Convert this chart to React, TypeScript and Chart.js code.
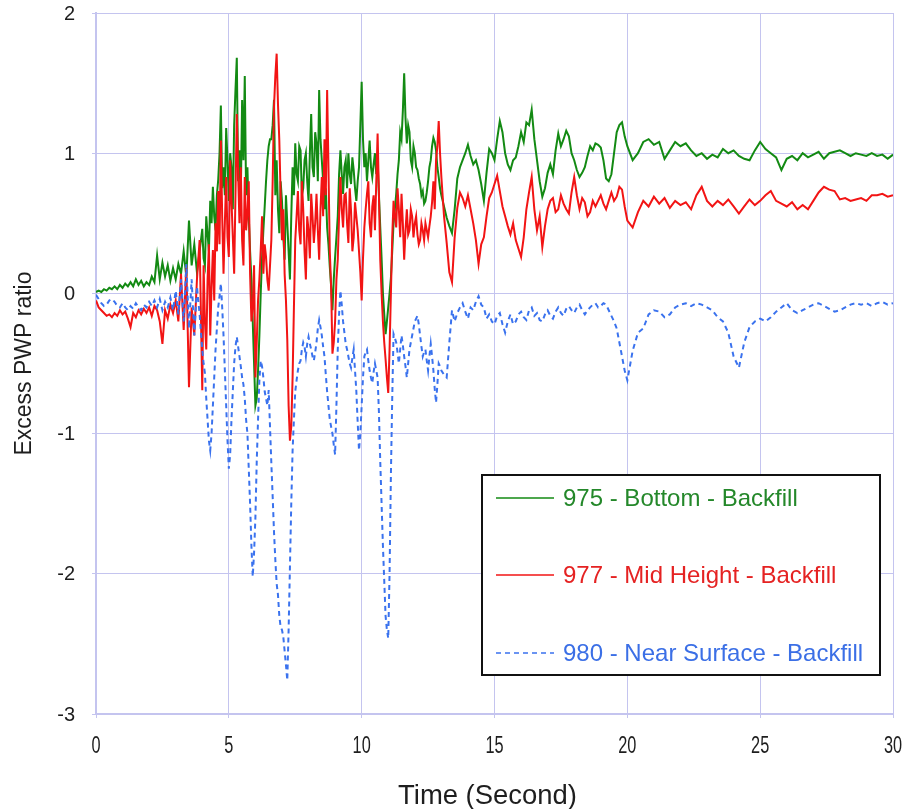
import React, { useEffect, useRef } from "react";
import { Chart, registerables } from "chart.js";

Chart.register(...registerables);

const TIME = [
  0.0, 0.1, 0.2, 0.3, 0.4, 0.5, 0.6, 0.7, 0.8, 0.9,
  1.0, 1.1, 1.2, 1.3, 1.4, 1.5, 1.6, 1.7, 1.8, 1.9,
  2.0, 2.1, 2.2, 2.3, 2.4, 2.5, 2.6, 2.7, 2.8, 2.9,
  3.0, 3.1, 3.2, 3.3, 3.4, 3.5, 3.6, 3.7, 3.8, 3.9,
  4.0, 4.05, 4.1, 4.15, 4.2, 4.25, 4.3, 4.35, 4.4, 4.45,
  4.5, 4.55, 4.6, 4.65, 4.7, 4.75, 4.8, 4.85, 4.9, 4.95,
  5.0, 5.05, 5.1, 5.15, 5.2, 5.25, 5.3, 5.35, 5.4, 5.45,
  5.5, 5.55, 5.6, 5.65, 5.7, 5.75, 5.8, 5.85, 5.9, 5.95,
  6.0, 6.05, 6.1, 6.15, 6.2, 6.25, 6.3, 6.35, 6.4, 6.45,
  6.5, 6.55, 6.6, 6.65, 6.7, 6.75, 6.8, 6.85, 6.9, 6.95,
  7.0, 7.05, 7.1, 7.15, 7.2, 7.25, 7.3, 7.35, 7.4, 7.45,
  7.5, 7.55, 7.6, 7.65, 7.7, 7.75, 7.8, 7.85, 7.9, 7.95,
  8.0, 8.05, 8.1, 8.15, 8.2, 8.25, 8.3, 8.35, 8.4, 8.45,
  8.5, 8.55, 8.6, 8.65, 8.7, 8.75, 8.8, 8.85, 8.9, 8.95,
  9.0, 9.05, 9.1, 9.15, 9.2, 9.25, 9.3, 9.35, 9.4, 9.45,
  9.5, 9.55, 9.6, 9.65, 9.7, 9.75, 9.8, 9.85, 9.9, 9.95,
  10.0, 10.05, 10.1, 10.15, 10.2, 10.25, 10.3, 10.35, 10.4, 10.45,
  10.5, 10.55, 10.6, 10.65, 10.7, 10.75, 10.8, 10.85, 10.9, 10.95,
  11.0, 11.05, 11.1, 11.15, 11.2, 11.25, 11.3, 11.35, 11.4, 11.45,
  11.5, 11.55, 11.6, 11.65, 11.7, 11.75, 11.8, 11.85, 11.9, 11.95,
  12.0, 12.05, 12.1, 12.15, 12.2, 12.25, 12.3, 12.35, 12.4, 12.45,
  12.5, 12.55, 12.6, 12.65, 12.7, 12.75, 12.8, 12.85, 12.9, 12.95,
  13.0,
  13.1, 13.2, 13.3, 13.4, 13.5, 13.6, 13.7, 13.8, 13.9, 14.0,
  14.1, 14.2, 14.3, 14.4, 14.5, 14.6, 14.7, 14.8, 14.9, 15.0,
  15.1, 15.2, 15.3, 15.4, 15.5, 15.6, 15.7, 15.8, 15.9, 16.0,
  16.1, 16.2, 16.3, 16.4, 16.5, 16.6, 16.7, 16.8, 16.9, 17.0,
  17.1, 17.2, 17.3, 17.4, 17.5, 17.6, 17.7, 17.8, 17.9, 18.0,
  18.1, 18.2, 18.3, 18.4, 18.5, 18.6, 18.7, 18.8, 18.9, 19.0,
  19.1, 19.2, 19.3, 19.4, 19.5, 19.6, 19.7, 19.8, 19.9, 20.0,
  20.2, 20.4, 20.6, 20.8, 21.0, 21.2, 21.4, 21.6, 21.8, 22.0,
  22.2, 22.4, 22.6, 22.8, 23.0, 23.2, 23.4, 23.6, 23.8, 24.0,
  24.2, 24.4, 24.6, 24.8, 25.0, 25.2, 25.4, 25.6, 25.8, 26.0,
  26.2, 26.4, 26.6, 26.8, 27.0, 27.2, 27.4, 27.6, 27.8, 28.0,
  28.2, 28.4, 28.6, 28.8, 29.0, 29.2, 29.4, 29.6, 29.8, 30.0,
];

const BOTTOM_975 = [
  0.01, 0.02, 0.01, 0.03, 0.02, 0.04, 0.03, 0.05, 0.03, 0.06,
  0.04, 0.07, 0.05, 0.08, 0.05, 0.10, 0.06, 0.09, 0.05, 0.08,
  0.06, 0.12, 0.08, 0.27, 0.10, 0.22, 0.12, 0.20, 0.09, 0.18,
  0.10, 0.21, 0.14, 0.30, 0.12, 0.52, 0.20, 0.35, 0.15, 0.30,
  0.46, 0.25, 0.20, 0.55, 0.42, 0.30, 0.66, 0.50, 0.76, 0.55,
  0.45, 0.70, 0.81, 1.00, 1.34, 0.75, 0.90, 0.70, 1.18, 0.95,
  0.66, 1.00, 0.90, 0.60, 1.20, 1.45, 1.68, 0.80, 1.02, 0.70,
  1.38, 0.95, 1.55, 0.70, 0.90, 0.55, 0.30, 0.10, -0.20, -0.50,
  -0.80, -0.75, -0.55, -0.30, 0.00, 0.25, 0.45, 0.62, 0.80, 0.95,
  1.05, 1.10, 1.10, 1.20, 1.38, 0.70, 0.95, 0.60, 0.43, 0.80,
  0.66, 0.40, 0.24, 0.70, 0.50, 0.30, 0.10, 0.55, 0.90, 0.70,
  1.07, 0.85, 0.80, 1.05, 1.02, 0.70, 0.75, 0.95, 1.00, 0.80,
  0.66, 1.00, 1.28, 0.90, 0.83, 1.15, 1.07, 0.80, 1.45, 1.10,
  0.95, 0.80, 0.60, 0.75, 0.47, 0.35, 0.19, 0.05, -0.12, 0.10,
  0.26, 0.40, 0.55, 0.85, 1.02, 0.85, 0.71, 0.90, 0.95, 0.75,
  1.00, 0.85, 0.78, 0.97, 0.88, 0.75, 0.66, 0.80, 0.90, 1.20,
  1.51, 1.10, 0.90, 1.00, 0.80, 0.95, 1.09, 0.90, 0.83, 0.92,
  1.00, 0.85, 0.95, 0.70, 0.47, 0.25, 0.00, -0.15, -0.29, -0.20,
  -0.10, 0.00, 0.11, 0.30, 0.50, 0.60, 0.71, 0.85, 0.95, 1.15,
  1.10, 1.30, 1.57, 1.25, 1.07, 1.20, 1.15, 0.95, 0.90, 1.05,
  1.00, 0.90, 0.88, 0.82, 0.78, 0.70, 0.73, 0.64, 0.66, 0.72,
  0.80, 0.90, 0.95, 1.05, 1.11, 1.08, 1.02, 0.90, 0.83, 0.75,
  0.70,
  0.62, 0.54, 0.48, 0.43, 0.60, 0.82, 0.90, 0.95, 1.00, 1.06,
  0.98, 0.92, 0.95, 0.88, 0.78, 0.66, 0.86, 1.03, 1.00, 0.95,
  1.10, 1.23, 1.15, 1.00, 0.92, 0.88, 0.95, 0.97, 1.05, 1.15,
  1.08, 1.22, 1.20, 1.31, 1.10, 0.95, 0.80, 0.69, 0.75, 0.86,
  0.92, 0.85, 1.02, 1.14, 1.05, 1.10, 1.16, 1.12, 1.00, 0.95,
  0.88, 0.83, 0.86, 0.90, 0.98, 1.05, 1.02, 1.07, 1.06, 1.04,
  0.95, 0.82, 0.80, 0.85, 1.00, 1.15, 1.20, 1.22, 1.12, 1.05,
  0.95, 1.00, 1.08, 1.10, 1.06, 1.08, 0.96, 1.02, 1.08, 1.05,
  1.07, 1.02, 0.98, 1.00, 0.96, 0.99, 0.97, 1.03, 1.00, 1.02,
  0.98, 0.96, 0.95, 1.02, 1.08, 1.03, 1.00, 0.97, 0.88, 0.96,
  0.98, 0.95, 1.00, 0.97, 0.99, 1.01, 0.96, 1.00, 1.01, 1.02,
  1.00, 0.98, 1.00, 0.99, 0.98, 1.00, 0.98, 0.99, 0.96, 0.99,
];

const MID_977 = [
  -0.05, -0.10, -0.12, -0.14, -0.16, -0.15, -0.17, -0.14, -0.16, -0.12,
  -0.15, -0.13, -0.18, -0.24, -0.14, -0.17, -0.12, -0.15, -0.11, -0.14,
  -0.10, -0.16, -0.09, -0.12, -0.20, -0.36, -0.12, -0.18, -0.08, -0.14,
  -0.05, -0.20, 0.14, -0.26, 0.20, -0.67, -0.10, -0.30, 0.10, 0.38,
  -0.69, 0.20, -0.20, -0.40, 0.10, 0.35, -0.30, 0.05, 0.31, -0.05,
  0.50, 0.30, 0.73, 0.35, 1.09, 0.55, 0.14, 0.50, 0.83, 0.40,
  0.26, 0.95, 0.66, 0.40, 0.14, 0.70, 1.28, 0.85, 0.50, 0.90,
  0.38, 0.20, 0.83, 0.45, 0.57, 0.80, 0.14, -0.20, -0.10, 0.20,
  -0.60, -0.35, -0.05, 0.10, 0.31, 0.55, 0.14, 0.35, 0.26, 0.10,
  0.02, 0.20, 0.38, 0.80, 1.33, 1.55, 1.71, 1.35, 1.09, 0.70,
  0.38, 0.60, 0.14, -0.05, -0.33, -0.80, -1.05, -0.95, -0.60, -0.10,
  0.38, 0.55, 0.73, 0.45, 0.35, 0.80, 0.60, 0.30, 0.10, 0.55,
  0.45, 0.25, 0.71, 0.55, 0.36, 0.50, 0.71, 0.45, 0.24, 0.60,
  0.83, 0.55, 1.10, 0.70, 1.45, 0.90, 0.30, 0.05, -0.43, -0.35,
  -0.20, 0.10, 0.24, 0.55, 0.83, 0.60, 0.47, 0.70, 0.71, 0.50,
  0.36, 0.75, 0.59, 0.30, 0.40, 0.65, 0.55, 0.45, 0.30, 0.15,
  -0.05, 0.25, 0.47, 0.60, 0.71, 0.80, 0.50, 0.40, 0.62, 0.70,
  0.45, 0.80, 1.14, 0.70, 0.24, 0.00, -0.20, -0.35, -0.47, -0.60,
  -0.71, -0.40, 0.00, 0.40, 0.66, 0.55, 0.47, 0.75, 0.60, 0.40,
  0.71, 0.50, 0.24, 0.45, 0.60, 0.42, 0.45, 0.60, 0.55, 0.40,
  0.50, 0.55, 0.42, 0.35, 0.38, 0.50, 0.45, 0.38, 0.50, 0.45,
  0.40, 0.48, 0.55, 0.65, 0.80, 0.60, 0.95, 1.05, 1.23, 1.00,
  0.83,
  0.55, 0.36, 0.15, 0.08, 0.40, 0.61, 0.72, 0.68, 0.62, 0.70,
  0.60, 0.50, 0.38, 0.21, 0.35, 0.40, 0.55, 0.68, 0.72, 0.78,
  0.84, 0.73, 0.62, 0.55, 0.48, 0.42, 0.50, 0.38, 0.32, 0.26,
  0.40, 0.60, 0.72, 0.83, 0.60, 0.45, 0.55, 0.33, 0.48, 0.60,
  0.66, 0.68, 0.58, 0.60, 0.70, 0.64, 0.60, 0.57, 0.72, 0.83,
  0.70, 0.60, 0.68, 0.65, 0.55, 0.58, 0.66, 0.62, 0.66, 0.70,
  0.64, 0.60, 0.66, 0.72, 0.66, 0.69, 0.76, 0.74, 0.62, 0.52,
  0.47, 0.58, 0.66, 0.62, 0.69, 0.64, 0.68, 0.61, 0.66, 0.63,
  0.65, 0.60, 0.70, 0.76, 0.66, 0.62, 0.66, 0.63, 0.67, 0.62,
  0.57, 0.62, 0.67, 0.63, 0.66, 0.70, 0.73, 0.66, 0.64, 0.62,
  0.65, 0.60, 0.63, 0.60, 0.66, 0.72, 0.76, 0.74, 0.73, 0.67,
  0.68, 0.66, 0.67, 0.68, 0.66, 0.70, 0.70, 0.71, 0.69, 0.70,
];

const SURFACE_980 = [
  -0.01, -0.04, -0.07, -0.09, -0.08, -0.05, -0.04, -0.06, -0.09, -0.10,
  -0.07, -0.10, -0.12, -0.09, -0.11, -0.07, -0.10, -0.12, -0.08, -0.10,
  -0.06, -0.09, -0.05, -0.10, -0.04, -0.12, -0.06, -0.10, -0.03, -0.12,
  0.02, -0.15, 0.10, -0.20, 0.21, -0.25, 0.10, -0.30, 0.05, -0.15,
  -0.40, -0.50, -0.57, -0.75, -0.90, -1.05, -1.12, -1.00, -0.80, -0.60,
  -0.40, -0.25, -0.10, -0.02, 0.07, -0.10, -0.30, -0.55, -0.80, -1.05,
  -1.25, -1.15, -0.90, -0.70, -0.50, -0.38, -0.31, -0.38, -0.45, -0.52,
  -0.60, -0.65, -0.75, -0.90, -1.00, -1.25, -1.50, -1.80, -2.02, -1.85,
  -1.60, -1.20, -0.90, -0.62, -0.48, -0.52, -0.60, -0.70, -0.75, -0.80,
  -0.69, -0.95, -1.21, -1.45, -1.70, -1.90, -2.07, -2.15, -2.30, -2.38,
  -2.40, -2.45, -2.55, -2.65, -2.76, -2.40, -1.95, -1.50, -1.12, -0.90,
  -0.70, -0.62, -0.55, -0.50, -0.48, -0.40, -0.35, -0.38, -0.45, -0.36,
  -0.31, -0.36, -0.40, -0.45, -0.48, -0.42, -0.35, -0.25, -0.19, -0.24,
  -0.30, -0.38, -0.45, -0.58, -0.70, -0.80, -0.90, -0.95, -1.00, -1.08,
  -1.15, -0.80, -0.40, -0.15, 0.02, -0.08, -0.20, -0.28, -0.36, -0.40,
  -0.45, -0.50, -0.53, -0.46, -0.40, -0.55, -0.70, -0.92, -1.12, -1.00,
  -0.80, -0.60, -0.45, -0.42, -0.40, -0.48, -0.55, -0.60, -0.64, -0.56,
  -0.50, -0.55, -0.60, -0.85, -1.20, -1.50, -1.80, -2.05, -2.30, -2.40,
  -2.46, -2.00, -1.30, -0.75, -0.29, -0.32, -0.35, -0.42, -0.50, -0.40,
  -0.30, -0.37, -0.45, -0.52, -0.60, -0.50, -0.40, -0.35, -0.30, -0.25,
  -0.20, -0.18, -0.16, -0.22, -0.30, -0.38, -0.45, -0.42, -0.40, -0.48,
  -0.55, -0.45, -0.36, -0.45, -0.55, -0.68, -0.78, -0.65, -0.50, -0.52,
  -0.55,
  -0.58, -0.60, -0.35, -0.12, -0.20, -0.14, -0.10, -0.07, -0.13, -0.18,
  -0.10, -0.12, -0.06, -0.02, -0.08, -0.10, -0.18, -0.15, -0.20, -0.22,
  -0.16, -0.14, -0.22, -0.28, -0.20, -0.15, -0.22, -0.20, -0.15, -0.13,
  -0.17, -0.19, -0.12, -0.10, -0.16, -0.14, -0.19, -0.20, -0.15, -0.12,
  -0.16, -0.18, -0.13, -0.10, -0.14, -0.16, -0.11, -0.09, -0.12, -0.14,
  -0.10, -0.08, -0.12, -0.15, -0.12, -0.10, -0.08, -0.07, -0.10, -0.09,
  -0.07, -0.08, -0.12, -0.16, -0.20, -0.25, -0.35, -0.45, -0.55, -0.62,
  -0.41, -0.28, -0.25, -0.15, -0.12, -0.13, -0.17, -0.15, -0.10, -0.08,
  -0.07, -0.09, -0.07, -0.08, -0.10, -0.12, -0.17, -0.20, -0.28, -0.45,
  -0.53, -0.35, -0.24, -0.20, -0.18, -0.20, -0.17, -0.13, -0.10, -0.07,
  -0.12, -0.14, -0.12, -0.10, -0.08, -0.07, -0.09, -0.11, -0.13, -0.12,
  -0.10, -0.08, -0.07, -0.08, -0.07, -0.09, -0.07, -0.06, -0.08, -0.07,
];

const X_TICKS = [0, 5, 10, 15, 20, 25, 30];
const Y_TICKS = [-3, -2, -1, 0, 1, 2];
const SERIES_LABELS = [
  "975 - Bottom - Backfill",
  "977 - Mid Height - Backfill",
  "980 - Near Surface - Backfill",
];
const SERIES_COLORS = ["#138a13", "#f21414", "#3a72ee"];
const LABEL_COLORS = ["#24882a", "#e52222", "#3b6fe6"];
const X_TITLE = "Time (Second)";
const Y_TITLE = "Excess PWP ratio";

const FONT = '"Liberation Sans", Arial, Helvetica, sans-serif';

const toPoints = (ys: number[]) => TIME.map((t, i) => ({ x: t, y: ys[i] }));

const textPlugin = {
  id: "axisTextAndLegend",
  afterDraw(chart: any) {
    const { ctx, chartArea: a, scales } = chart;
    const xs = scales.x;
    const ys = scales.y;
    ctx.save();
    ctx.fillStyle = "#1e1e1e";
    // x tick labels
    ctx.font = `24px ${FONT}`;
    ctx.textAlign = "center";
    ctx.textBaseline = "middle";
    X_TICKS.forEach((v) => {
      const px = xs.getPixelForValue(v);
      ctx.save();
      ctx.translate(px, a.bottom + 32);
      ctx.scale(0.68, 1);
      ctx.fillText(String(v), 0, 0);
      ctx.restore();
    });
    // y tick labels
    ctx.font = `20px ${FONT}`;
    ctx.textAlign = "right";
    Y_TICKS.forEach((v) => {
      const py = ys.getPixelForValue(v);
      ctx.fillText(String(v), a.left - 21, py + 1);
    });
    // x title
    ctx.font = `28px ${FONT}`;
    ctx.textAlign = "center";
    ctx.save();
    ctx.translate((a.left + a.right) / 2 - 7, a.bottom + 82);
    ctx.scale(0.98, 1);
    ctx.fillText(X_TITLE, 0, 0);
    ctx.restore();
    // y title
    ctx.font = `23px ${FONT}`;
    ctx.save();
    ctx.translate(25, (a.top + a.bottom) / 2);
    ctx.rotate(-Math.PI / 2);
    ctx.fillText(Y_TITLE, 0, 0);
    ctx.restore();

    // legend box
    const bx = a.left + 386;
    const by = a.top + 462;
    const bw = 398;
    const bh = 200;
    ctx.fillStyle = "#ffffff";
    ctx.fillRect(bx, by, bw, bh);
    ctx.strokeStyle = "#111111";
    ctx.lineWidth = 2;
    ctx.strokeRect(bx, by, bw, bh);
    const rows = [by + 23, by + 100, by + 178];
    chart.data.datasets.forEach((ds: any, i: number) => {
      const ry = rows[i];
      ctx.save();
      ctx.strokeStyle = ds.borderColor;
      ctx.lineWidth = 1.6;
      ctx.setLineDash(ds.borderDash || []);
      ctx.beginPath();
      ctx.moveTo(bx + 14, ry);
      ctx.lineTo(bx + 72, ry);
      ctx.stroke();
      ctx.restore();
      ctx.fillStyle = LABEL_COLORS[i];
      ctx.font = `24px ${FONT}`;
      ctx.textAlign = "left";
      ctx.textBaseline = "middle";
      ctx.fillText(ds.label, bx + 81, ry + 1);
    });
    ctx.restore();
  },
};

export default function App() {
  const ref = useRef<HTMLCanvasElement | null>(null);

  useEffect(() => {
    document.body.style.margin = "0";
    const canvas = ref.current;
    if (!canvas) return;
    const gridColor = "#c4c4ef";
    const chart = new Chart(canvas, {
      type: "line",
      data: {
        datasets: [
          {
            label: SERIES_LABELS[0],
            data: toPoints(BOTTOM_975),
            borderColor: SERIES_COLORS[0],
            borderWidth: 2,
            pointRadius: 0,
            tension: 0,
            order: 3,
          },
          {
            label: SERIES_LABELS[1],
            data: toPoints(MID_977),
            borderColor: SERIES_COLORS[1],
            borderWidth: 2,
            pointRadius: 0,
            tension: 0,
            order: 2,
          },
          {
            label: SERIES_LABELS[2],
            data: toPoints(SURFACE_980),
            borderColor: SERIES_COLORS[2],
            borderWidth: 2,
            borderDash: [5, 4],
            pointRadius: 0,
            tension: 0,
            order: 1,
          },
        ],
      },
      options: {
        responsive: false,
        animation: false,
        layout: { padding: { left: 0, right: 14, top: 13, bottom: 0 } },
        plugins: { legend: { display: false }, tooltip: { enabled: false } },
        scales: {
          x: {
            type: "linear",
            min: 0,
            max: 30,
            ticks: { stepSize: 5, display: false },
            grid: { color: gridColor, lineWidth: 1, tickLength: 4 },
            border: { color: gridColor, width: 2 },
            afterFit: (s: any) => {
              s.height = 95;
            },
          },
          y: {
            type: "linear",
            min: -3,
            max: 2,
            ticks: { stepSize: 1, display: false },
            grid: { color: gridColor, lineWidth: 1, tickLength: 4 },
            border: { color: gridColor, width: 2 },
            afterFit: (s: any) => {
              s.width = 96;
            },
          },
        },
      },
      plugins: [textPlugin],
    });
    return () => chart.destroy();
  }, []);

  return <canvas ref={ref} width={907} height={809} style={{ display: "block" }} />;
}
